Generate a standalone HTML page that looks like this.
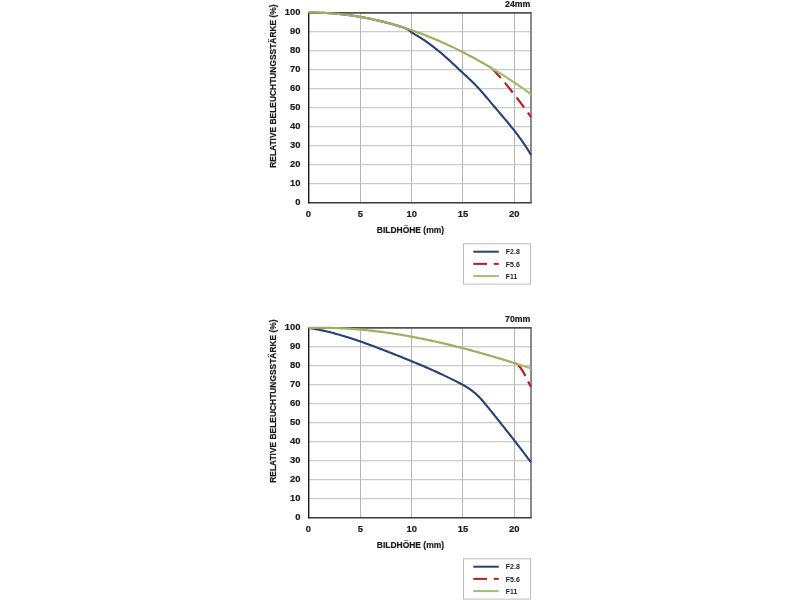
<!DOCTYPE html>
<html><head><meta charset="utf-8"><title>Relative Beleuchtungsst&auml;rke</title>
<style>
html,body{margin:0;padding:0;background:#fff;}
body{width:800px;height:600px;overflow:hidden;font-family:"Liberation Sans",sans-serif;}
svg{display:block;will-change:transform;}
svg text{font-family:"Liberation Sans",sans-serif;}
</style></head><body>
<svg width="800" height="600" viewBox="0 0 800 600">
<defs><clipPath id="clip0"><rect x="300" y="8.75" width="231.8" height="193.95"/></clipPath><clipPath id="clip315"><rect x="300" y="323.75" width="231.8" height="193.95"/></clipPath></defs>
<rect width="800" height="600" fill="#fff"/>
<line x1="360.50" y1="12.75" x2="360.50" y2="202.70" stroke="#b5b5b5" stroke-width="1"/>
<line x1="411.50" y1="12.75" x2="411.50" y2="202.70" stroke="#b5b5b5" stroke-width="1"/>
<line x1="462.50" y1="12.75" x2="462.50" y2="202.70" stroke="#b5b5b5" stroke-width="1"/>
<line x1="514.50" y1="12.75" x2="514.50" y2="202.70" stroke="#b5b5b5" stroke-width="1"/>
<line x1="308.60" y1="183.70" x2="531" y2="183.70" stroke="#bdbdbd" stroke-width="1"/>
<line x1="308.60" y1="164.71" x2="531" y2="164.71" stroke="#bdbdbd" stroke-width="1"/>
<line x1="308.60" y1="145.71" x2="531" y2="145.71" stroke="#bdbdbd" stroke-width="1"/>
<line x1="308.60" y1="126.72" x2="531" y2="126.72" stroke="#bdbdbd" stroke-width="1"/>
<line x1="308.60" y1="107.72" x2="531" y2="107.72" stroke="#bdbdbd" stroke-width="1"/>
<line x1="308.60" y1="88.73" x2="531" y2="88.73" stroke="#bdbdbd" stroke-width="1"/>
<line x1="308.60" y1="69.73" x2="531" y2="69.73" stroke="#bdbdbd" stroke-width="1"/>
<line x1="308.60" y1="50.74" x2="531" y2="50.74" stroke="#bdbdbd" stroke-width="1"/>
<line x1="308.60" y1="31.75" x2="531" y2="31.75" stroke="#bdbdbd" stroke-width="1"/>
<line x1="308.6" y1="12.90" x2="531.7" y2="12.90" stroke="#505050" stroke-width="1.8"/>
<line x1="531" y1="12.75" x2="531" y2="202.70" stroke="#666" stroke-width="1.5"/>
<line x1="308.6" y1="202.70" x2="531.7" y2="202.70" stroke="#3a3a3a" stroke-width="1.6"/>
<line x1="308.7" y1="12.75" x2="308.7" y2="203.50" stroke="#1a1a1a" stroke-width="1.4"/>
<g clip-path="url(#clip0)" fill="none" stroke-linejoin="round">
<path d="M308.60,12.61 L309.63,12.60 L310.66,12.60 L311.69,12.60 L312.72,12.60 L313.75,12.61 L314.77,12.62 L315.80,12.64 L316.83,12.66 L317.86,12.68 L318.89,12.71 L319.92,12.74 L320.95,12.78 L321.98,12.81 L323.01,12.86 L324.04,12.90 L325.06,12.95 L326.09,13.01 L327.12,13.06 L328.15,13.12 L329.18,13.19 L330.21,13.26 L331.24,13.33 L332.27,13.41 L333.30,13.49 L334.33,13.57 L335.35,13.66 L336.38,13.75 L337.41,13.84 L338.44,13.94 L339.47,14.04 L340.50,14.15 L341.53,14.26 L342.56,14.37 L343.59,14.48 L344.62,14.61 L345.64,14.73 L346.67,14.86 L347.70,14.99 L348.73,15.12 L349.76,15.26 L350.79,15.40 L351.82,15.55 L352.85,15.70 L353.88,15.85 L354.91,16.01 L355.93,16.17 L356.96,16.33 L357.99,16.50 L359.02,16.67 L360.05,16.85 L361.08,17.03 L362.11,17.21 L363.14,17.40 L364.17,17.59 L365.20,17.78 L366.22,17.98 L367.25,18.18 L368.28,18.38 L369.31,18.59 L370.34,18.80 L371.37,19.01 L372.40,19.23 L373.43,19.46 L374.46,19.68 L375.49,19.91 L376.51,20.14 L377.54,20.38 L378.57,20.62 L379.60,20.86 L380.63,21.11 L381.66,21.36 L382.69,21.62 L383.72,21.87 L384.75,22.14 L385.78,22.40 L386.80,22.67 L387.83,22.94 L388.86,23.22 L389.89,23.50 L390.92,23.78 L391.95,24.07 L392.98,24.36 L394.01,24.65 L395.04,24.95 L396.06,25.25 L397.09,25.55 L398.12,25.86 L399.15,26.17 L400.18,26.49 L401.21,26.80 L402.24,27.13 L403.27,27.47 L404.30,27.85 L405.33,28.29 L406.36,28.79 L407.38,29.35 L408.41,29.97 L409.44,30.64 L410.47,31.35 L411.50,32.09 L412.53,32.83 L413.56,33.54 L414.59,34.19 L415.62,34.79 L416.64,35.40 L417.67,36.02 L418.70,36.66 L419.73,37.30 L420.76,37.95 L421.79,38.62 L422.82,39.29 L423.85,39.98 L424.88,40.68 L425.91,41.38 L426.94,42.10 L427.96,42.83 L428.99,43.57 L430.02,44.32 L431.05,45.08 L432.08,45.86 L433.11,46.64 L434.14,47.43 L435.17,48.24 L436.20,49.05 L437.23,49.88 L438.25,50.71 L439.28,51.56 L440.31,52.42 L441.34,53.29 L442.37,54.17 L443.40,55.06 L444.43,55.96 L445.46,56.87 L446.49,57.79 L447.51,58.71 L448.54,59.65 L449.57,60.59 L450.60,61.53 L451.63,62.48 L452.66,63.43 L453.69,64.39 L454.72,65.35 L455.75,66.31 L456.78,67.27 L457.81,68.23 L458.83,69.19 L459.86,70.15 L460.89,71.11 L461.92,72.07 L462.95,73.02 L463.98,73.97 L465.01,74.92 L466.04,75.87 L467.07,76.82 L468.10,77.77 L469.12,78.74 L470.15,79.71 L471.18,80.69 L472.21,81.69 L473.24,82.71 L474.27,83.74 L475.30,84.79 L476.33,85.86 L477.36,86.96 L478.38,88.07 L479.41,89.20 L480.44,90.34 L481.47,91.50 L482.50,92.68 L483.53,93.86 L484.56,95.05 L485.59,96.26 L486.62,97.47 L487.65,98.68 L488.68,99.91 L489.70,101.13 L490.73,102.36 L491.76,103.58 L492.79,104.81 L493.82,106.03 L494.85,107.25 L495.88,108.47 L496.91,109.68 L497.94,110.88 L498.97,112.09 L499.99,113.29 L501.02,114.49 L502.05,115.70 L503.08,116.91 L504.11,118.12 L505.14,119.33 L506.17,120.55 L507.20,121.78 L508.23,123.02 L509.25,124.26 L510.28,125.52 L511.31,126.79 L512.34,128.07 L513.37,129.37 L514.40,130.68 L515.43,132.00 L516.46,133.35 L517.49,134.71 L518.52,136.10 L519.55,137.50 L520.57,138.93 L521.60,140.38 L522.63,141.85 L523.66,143.35 L524.69,144.88 L525.72,146.43 L526.75,148.02 L527.78,149.63 L528.81,151.28 L529.84,152.96 L530.86,154.67 L531.07,155.02" stroke="#264273" stroke-width="2.10"/>
<path d="M492.38,68.77 L493.41,69.84 L494.44,70.94 L495.47,72.04 L496.50,73.16 L497.52,74.30 L498.55,75.45 L499.58,76.61 L500.61,77.79 L501.64,78.98 L502.67,80.18 L503.70,81.39 L504.73,82.62 L505.76,83.85 L506.79,85.10 L507.81,86.36 L508.84,87.63 L509.87,88.91 L510.90,90.20 L511.93,91.50 L512.96,92.81 L513.99,94.12 L515.02,95.45 L516.05,96.79 L517.08,98.13 L518.10,99.48 L519.13,100.84 L520.16,102.20 L521.19,103.57 L522.22,104.95 L523.25,106.33 L524.28,107.72 L525.31,109.11 L526.34,110.51 L527.37,111.92 L528.39,113.32 L529.42,114.74 L530.45,116.15 L531.07,117.00" stroke="#b51e27" stroke-width="2.20" stroke-dasharray="12.5 6.3"/>
<path d="M489.70,66.99 L490.73,67.61 L491.76,68.22 L492.79,68.84 L493.82,69.46 L494.85,70.09 L495.88,70.72 L496.91,71.35 L497.94,71.99 L498.97,72.62 L499.99,73.27 L501.02,73.91 L502.05,74.56 L503.08,75.21 L504.11,75.87 L505.14,76.52 L506.17,77.18 L507.20,77.85 L508.23,78.52 L509.25,79.19 L510.28,79.86 L511.31,80.54 L512.34,81.22 L513.37,81.90 L514.40,82.59 L515.43,83.28 L516.46,83.97 L517.49,84.67 L518.52,85.37 L519.55,86.07 L520.57,86.78 L521.60,87.48 L522.63,88.20 L523.66,88.91 L524.69,89.63 L525.72,90.35 L526.75,91.08 L527.78,91.80 L528.81,92.53 L529.84,93.27 L530.86,94.01 L531.07,94.15" stroke="#a4bd6b" stroke-width="2.20"/>
<path d="M308.60,12.61 L309.63,12.60 L310.66,12.60 L311.69,12.60 L312.72,12.60 L313.75,12.61 L314.77,12.62 L315.80,12.64 L316.83,12.66 L317.86,12.68 L318.89,12.71 L319.92,12.74 L320.95,12.78 L321.98,12.81 L323.01,12.86 L324.04,12.90 L325.06,12.95 L326.09,13.01 L327.12,13.06 L328.15,13.12 L329.18,13.19 L330.21,13.26 L331.24,13.33 L332.27,13.41 L333.30,13.49 L334.33,13.57 L335.35,13.66 L336.38,13.75 L337.41,13.84 L338.44,13.94 L339.47,14.04 L340.50,14.15 L341.53,14.26 L342.56,14.37 L343.59,14.48 L344.62,14.61 L345.64,14.73 L346.67,14.86 L347.70,14.99 L348.73,15.12 L349.76,15.26 L350.79,15.40 L351.82,15.55 L352.85,15.70 L353.88,15.85 L354.91,16.01 L355.93,16.17 L356.96,16.33 L357.99,16.50 L359.02,16.67 L360.05,16.85 L361.08,17.03 L362.11,17.21 L363.14,17.40 L364.17,17.59 L365.20,17.78 L366.22,17.98 L367.25,18.18 L368.28,18.38 L369.31,18.59 L370.34,18.80 L371.37,19.01 L372.40,19.23 L373.43,19.46 L374.46,19.68 L375.49,19.91 L376.51,20.14 L377.54,20.38 L378.57,20.62 L379.60,20.86 L380.63,21.11 L381.66,21.36 L382.69,21.62 L383.72,21.87 L384.75,22.14 L385.78,22.40 L386.80,22.67 L387.83,22.94 L388.86,23.22 L389.89,23.50 L390.92,23.78 L391.95,24.07 L392.98,24.36 L394.01,24.65 L395.04,24.95 L396.06,25.25 L397.09,25.55 L398.12,25.86 L399.15,26.17 L400.18,26.49 L401.21,26.80 L402.24,27.13 L403.27,27.45 L404.30,27.78 L405.33,28.11 L406.36,28.45 L407.38,28.79 L408.41,29.13 L409.44,29.48 L410.47,29.82 L411.50,30.18 L412.53,30.53 L413.56,30.89 L414.59,31.26 L415.62,31.63 L416.64,32.00 L417.67,32.37 L418.70,32.75 L419.73,33.13 L420.76,33.51 L421.79,33.90 L422.82,34.29 L423.85,34.69 L424.88,35.09 L425.91,35.49 L426.94,35.89 L427.96,36.30 L428.99,36.71 L430.02,37.13 L431.05,37.55 L432.08,37.97 L433.11,38.40 L434.14,38.82 L435.17,39.26 L436.20,39.69 L437.23,40.13 L438.25,40.58 L439.28,41.02 L440.31,41.47 L441.34,41.92 L442.37,42.38 L443.40,42.84 L444.43,43.30 L445.46,43.77 L446.49,44.24 L447.51,44.71 L448.54,45.19 L449.57,45.67 L450.60,46.15 L451.63,46.64 L452.66,47.13 L453.69,47.62 L454.72,48.12 L455.75,48.62 L456.78,49.12 L457.81,49.63 L458.83,50.14 L459.86,50.66 L460.89,51.17 L461.92,51.69 L462.95,52.22 L463.98,52.74 L465.01,53.27 L466.04,53.81 L467.07,54.35 L468.10,54.89 L469.12,55.43 L470.15,55.98 L471.18,56.53 L472.21,57.08 L473.24,57.64 L474.27,58.20 L475.30,58.76 L476.33,59.33 L477.36,59.90 L478.38,60.47 L479.41,61.05 L480.44,61.63 L481.47,62.21 L482.50,62.80 L483.53,63.39 L484.56,63.98 L485.59,64.58 L486.62,65.18 L487.65,65.78 L488.68,66.38 L489.70,66.99 L490.73,67.61 L491.76,68.22" stroke="#a0ae62" stroke-width="2.20"/>
</g>
<g font-size="9.90" font-weight="bold" fill="#1a1a1a" stroke="#1a1a1a" stroke-width="0.2"><text x="300.5" y="205.40" text-anchor="end" textLength="5.23" lengthAdjust="spacingAndGlyphs">0</text><text x="300.5" y="186.40" text-anchor="end" textLength="10.46" lengthAdjust="spacingAndGlyphs">10</text><text x="300.5" y="167.41" text-anchor="end" textLength="10.46" lengthAdjust="spacingAndGlyphs">20</text><text x="300.5" y="148.41" text-anchor="end" textLength="10.46" lengthAdjust="spacingAndGlyphs">30</text><text x="300.5" y="129.42" text-anchor="end" textLength="10.46" lengthAdjust="spacingAndGlyphs">40</text><text x="300.5" y="110.42" text-anchor="end" textLength="10.46" lengthAdjust="spacingAndGlyphs">50</text><text x="300.5" y="91.43" text-anchor="end" textLength="10.46" lengthAdjust="spacingAndGlyphs">60</text><text x="300.5" y="72.43" text-anchor="end" textLength="10.46" lengthAdjust="spacingAndGlyphs">70</text><text x="300.5" y="53.44" text-anchor="end" textLength="10.46" lengthAdjust="spacingAndGlyphs">80</text><text x="300.5" y="34.45" text-anchor="end" textLength="10.46" lengthAdjust="spacingAndGlyphs">90</text><text x="300.5" y="15.45" text-anchor="end" textLength="15.69" lengthAdjust="spacingAndGlyphs">100</text><text x="308.40" y="216.60" text-anchor="middle" textLength="5.23" lengthAdjust="spacingAndGlyphs">0</text><text x="360.40" y="216.60" text-anchor="middle" textLength="5.23" lengthAdjust="spacingAndGlyphs">5</text><text x="411.70" y="216.60" text-anchor="middle" textLength="10.46" lengthAdjust="spacingAndGlyphs">10</text><text x="463.00" y="216.60" text-anchor="middle" textLength="10.46" lengthAdjust="spacingAndGlyphs">15</text><text x="514.20" y="216.60" text-anchor="middle" textLength="10.46" lengthAdjust="spacingAndGlyphs">20</text></g>
<text x="530.4" y="6.80" text-anchor="end" font-size="9.8" font-weight="bold" fill="#1a1a1a" stroke="#1a1a1a" stroke-width="0.2" textLength="25.3" lengthAdjust="spacingAndGlyphs">24mm</text>
<text x="376.8" y="232.50" font-size="9.4" font-weight="bold" fill="#1a1a1a" stroke="#1a1a1a" stroke-width="0.2" textLength="67.2" lengthAdjust="spacingAndGlyphs">BILDH&#214;HE (mm)</text>
<text transform="translate(276.4,167.80) rotate(-90)" x="0" y="0" font-size="9.5" font-weight="bold" fill="#1a1a1a" stroke="#1a1a1a" stroke-width="0.2" textLength="163.4" lengthAdjust="spacingAndGlyphs">RELATIVE BELEUCHTUNGSST&#196;RKE (%)</text>
<rect x="463.5" y="243.80" width="67" height="40.3" fill="none" stroke="#bdbdbd" stroke-width="1"/>
<line x1="473.3" y1="251.70" x2="498.8" y2="251.70" stroke="#264273" stroke-width="2"/>
<line x1="473.3" y1="263.90" x2="487" y2="263.90" stroke="#b51e27" stroke-width="2"/>
<line x1="493.8" y1="263.90" x2="498.8" y2="263.90" stroke="#b51e27" stroke-width="2"/>
<line x1="473.3" y1="276.10" x2="498.8" y2="276.10" stroke="#a4bd6b" stroke-width="2"/>
<g font-size="7.5" font-weight="bold" fill="#1a1a1a"><text x="505.8" y="254.30" textLength="14.00" lengthAdjust="spacingAndGlyphs">F2.8</text><text x="505.8" y="266.50" textLength="14.00" lengthAdjust="spacingAndGlyphs">F5.6</text><text x="505.8" y="278.70" textLength="11.40" lengthAdjust="spacingAndGlyphs">F11</text></g>
<line x1="360.50" y1="327.75" x2="360.50" y2="517.70" stroke="#b5b5b5" stroke-width="1"/>
<line x1="411.50" y1="327.75" x2="411.50" y2="517.70" stroke="#b5b5b5" stroke-width="1"/>
<line x1="462.50" y1="327.75" x2="462.50" y2="517.70" stroke="#b5b5b5" stroke-width="1"/>
<line x1="514.50" y1="327.75" x2="514.50" y2="517.70" stroke="#b5b5b5" stroke-width="1"/>
<line x1="308.60" y1="498.71" x2="531" y2="498.71" stroke="#bdbdbd" stroke-width="1"/>
<line x1="308.60" y1="479.71" x2="531" y2="479.71" stroke="#bdbdbd" stroke-width="1"/>
<line x1="308.60" y1="460.72" x2="531" y2="460.72" stroke="#bdbdbd" stroke-width="1"/>
<line x1="308.60" y1="441.72" x2="531" y2="441.72" stroke="#bdbdbd" stroke-width="1"/>
<line x1="308.60" y1="422.73" x2="531" y2="422.73" stroke="#bdbdbd" stroke-width="1"/>
<line x1="308.60" y1="403.73" x2="531" y2="403.73" stroke="#bdbdbd" stroke-width="1"/>
<line x1="308.60" y1="384.74" x2="531" y2="384.74" stroke="#bdbdbd" stroke-width="1"/>
<line x1="308.60" y1="365.74" x2="531" y2="365.74" stroke="#bdbdbd" stroke-width="1"/>
<line x1="308.60" y1="346.75" x2="531" y2="346.75" stroke="#bdbdbd" stroke-width="1"/>
<line x1="308.6" y1="327.90" x2="531.7" y2="327.90" stroke="#505050" stroke-width="1.8"/>
<line x1="531" y1="327.75" x2="531" y2="517.70" stroke="#666" stroke-width="1.5"/>
<line x1="308.6" y1="517.70" x2="531.7" y2="517.70" stroke="#3a3a3a" stroke-width="1.6"/>
<line x1="308.7" y1="327.75" x2="308.7" y2="518.50" stroke="#1a1a1a" stroke-width="1.4"/>
<g clip-path="url(#clip315)" fill="none" stroke-linejoin="round">
<path d="M308.60,328.00 L309.63,328.15 L310.66,328.31 L311.69,328.47 L312.72,328.64 L313.75,328.82 L314.77,329.00 L315.80,329.18 L316.83,329.37 L317.86,329.57 L318.89,329.77 L319.92,329.98 L320.95,330.19 L321.98,330.40 L323.01,330.62 L324.04,330.85 L325.06,331.08 L326.09,331.32 L327.12,331.56 L328.15,331.80 L329.18,332.05 L330.21,332.31 L331.24,332.57 L332.27,332.83 L333.30,333.10 L334.33,333.37 L335.35,333.65 L336.38,333.93 L337.41,334.21 L338.44,334.50 L339.47,334.79 L340.50,335.09 L341.53,335.39 L342.56,335.69 L343.59,336.00 L344.62,336.31 L345.64,336.63 L346.67,336.95 L347.70,337.27 L348.73,337.59 L349.76,337.92 L350.79,338.25 L351.82,338.59 L352.85,338.92 L353.88,339.26 L354.91,339.61 L355.93,339.95 L356.96,340.30 L357.99,340.65 L359.02,341.01 L360.05,341.36 L361.08,341.72 L362.11,342.09 L363.14,342.45 L364.17,342.82 L365.20,343.19 L366.22,343.56 L367.25,343.93 L368.28,344.30 L369.31,344.68 L370.34,345.06 L371.37,345.44 L372.40,345.82 L373.43,346.21 L374.46,346.60 L375.49,346.98 L376.51,347.37 L377.54,347.76 L378.57,348.15 L379.60,348.55 L380.63,348.94 L381.66,349.34 L382.69,349.73 L383.72,350.13 L384.75,350.53 L385.78,350.93 L386.80,351.33 L387.83,351.73 L388.86,352.14 L389.89,352.54 L390.92,352.94 L391.95,353.34 L392.98,353.75 L394.01,354.15 L395.04,354.56 L396.06,354.97 L397.09,355.37 L398.12,355.78 L399.15,356.19 L400.18,356.60 L401.21,357.01 L402.24,357.42 L403.27,357.83 L404.30,358.24 L405.33,358.66 L406.36,359.07 L407.38,359.49 L408.41,359.91 L409.44,360.33 L410.47,360.75 L411.50,361.17 L412.53,361.59 L413.56,362.02 L414.59,362.44 L415.62,362.87 L416.64,363.30 L417.67,363.73 L418.70,364.16 L419.73,364.59 L420.76,365.03 L421.79,365.46 L422.82,365.90 L423.85,366.34 L424.88,366.79 L425.91,367.23 L426.94,367.68 L427.96,368.13 L428.99,368.58 L430.02,369.03 L431.05,369.48 L432.08,369.94 L433.11,370.40 L434.14,370.86 L435.17,371.32 L436.20,371.79 L437.23,372.26 L438.25,372.73 L439.28,373.20 L440.31,373.68 L441.34,374.16 L442.37,374.64 L443.40,375.12 L444.43,375.61 L445.46,376.10 L446.49,376.59 L447.51,377.08 L448.54,377.58 L449.57,378.08 L450.60,378.59 L451.63,379.09 L452.66,379.60 L453.69,380.11 L454.72,380.63 L455.75,381.15 L456.78,381.67 L457.81,382.20 L458.83,382.72 L459.86,383.26 L460.89,383.79 L461.92,384.34 L462.95,384.90 L463.98,385.47 L465.01,386.05 L466.04,386.66 L467.07,387.28 L468.10,387.93 L469.12,388.61 L470.15,389.31 L471.18,390.04 L472.21,390.81 L473.24,391.61 L474.27,392.45 L475.30,393.33 L476.33,394.26 L477.36,395.23 L478.38,396.24 L479.41,397.30 L480.44,398.39 L481.47,399.52 L482.50,400.68 L483.53,401.87 L484.56,403.08 L485.59,404.31 L486.62,405.56 L487.65,406.82 L488.68,408.09 L489.70,409.37 L490.73,410.66 L491.76,411.94 L492.79,413.23 L493.82,414.51 L494.85,415.80 L495.88,417.09 L496.91,418.37 L497.94,419.66 L498.97,420.95 L499.99,422.24 L501.02,423.54 L502.05,424.83 L503.08,426.13 L504.11,427.43 L505.14,428.72 L506.17,430.03 L507.20,431.33 L508.23,432.64 L509.25,433.95 L510.28,435.26 L511.31,436.57 L512.34,437.89 L513.37,439.21 L514.40,440.53 L515.43,441.86 L516.46,443.18 L517.49,444.52 L518.52,445.85 L519.55,447.19 L520.57,448.54 L521.60,449.88 L522.63,451.24 L523.66,452.59 L524.69,453.95 L525.72,455.32 L526.75,456.68 L527.78,458.06 L528.81,459.44 L529.84,460.82 L530.86,462.21 L531.07,462.49" stroke="#264273" stroke-width="2.10"/>
<path d="M518.00,365.56 L519.03,366.22 L520.06,367.23 L521.09,368.53 L522.12,370.07 L523.15,371.82 L524.18,373.71 L525.20,375.72 L526.23,377.78 L527.26,379.85 L528.29,381.88 L529.32,383.83 L530.35,385.65 L531.07,386.82" stroke="#b51e27" stroke-width="2.20" stroke-dasharray="13 6"/>
<path d="M515.43,363.42 L516.46,363.74 L517.49,364.07 L518.52,364.39 L519.55,364.72 L520.57,365.05 L521.60,365.38 L522.63,365.71 L523.66,366.04 L524.69,366.37 L525.72,366.71 L526.75,367.04 L527.78,367.38 L528.81,367.71 L529.84,368.05 L530.86,368.38 L531.07,368.45" stroke="#a4bd6b" stroke-width="2.20"/>
<path d="M308.60,327.90 L309.63,327.88 L310.66,327.85 L311.69,327.83 L312.72,327.81 L313.75,327.79 L314.77,327.78 L315.80,327.77 L316.83,327.76 L317.86,327.75 L318.89,327.75 L319.92,327.74 L320.95,327.75 L321.98,327.75 L323.01,327.76 L324.04,327.76 L325.06,327.77 L326.09,327.79 L327.12,327.80 L328.15,327.82 L329.18,327.84 L330.21,327.87 L331.24,327.89 L332.27,327.92 L333.30,327.95 L334.33,327.98 L335.35,328.02 L336.38,328.06 L337.41,328.10 L338.44,328.14 L339.47,328.18 L340.50,328.23 L341.53,328.28 L342.56,328.33 L343.59,328.39 L344.62,328.44 L345.64,328.50 L346.67,328.56 L347.70,328.63 L348.73,328.69 L349.76,328.76 L350.79,328.83 L351.82,328.90 L352.85,328.98 L353.88,329.05 L354.91,329.13 L355.93,329.21 L356.96,329.30 L357.99,329.38 L359.02,329.47 L360.05,329.56 L361.08,329.65 L362.11,329.75 L363.14,329.85 L364.17,329.94 L365.20,330.05 L366.22,330.15 L367.25,330.25 L368.28,330.36 L369.31,330.47 L370.34,330.58 L371.37,330.70 L372.40,330.81 L373.43,330.93 L374.46,331.05 L375.49,331.17 L376.51,331.30 L377.54,331.42 L378.57,331.55 L379.60,331.68 L380.63,331.82 L381.66,331.95 L382.69,332.09 L383.72,332.22 L384.75,332.36 L385.78,332.51 L386.80,332.65 L387.83,332.80 L388.86,332.95 L389.89,333.10 L390.92,333.25 L391.95,333.40 L392.98,333.56 L394.01,333.72 L395.04,333.88 L396.06,334.04 L397.09,334.20 L398.12,334.37 L399.15,334.53 L400.18,334.70 L401.21,334.88 L402.24,335.05 L403.27,335.22 L404.30,335.40 L405.33,335.58 L406.36,335.76 L407.38,335.94 L408.41,336.12 L409.44,336.31 L410.47,336.50 L411.50,336.69 L412.53,336.88 L413.56,337.07 L414.59,337.26 L415.62,337.46 L416.64,337.66 L417.67,337.86 L418.70,338.06 L419.73,338.26 L420.76,338.47 L421.79,338.67 L422.82,338.88 L423.85,339.09 L424.88,339.30 L425.91,339.52 L426.94,339.73 L427.96,339.95 L428.99,340.17 L430.02,340.39 L431.05,340.61 L432.08,340.83 L433.11,341.05 L434.14,341.28 L435.17,341.51 L436.20,341.74 L437.23,341.97 L438.25,342.20 L439.28,342.43 L440.31,342.67 L441.34,342.91 L442.37,343.14 L443.40,343.38 L444.43,343.62 L445.46,343.87 L446.49,344.11 L447.51,344.36 L448.54,344.61 L449.57,344.85 L450.60,345.10 L451.63,345.36 L452.66,345.61 L453.69,345.86 L454.72,346.12 L455.75,346.38 L456.78,346.64 L457.81,346.90 L458.83,347.16 L459.86,347.42 L460.89,347.68 L461.92,347.95 L462.95,348.22 L463.98,348.48 L465.01,348.75 L466.04,349.03 L467.07,349.30 L468.10,349.57 L469.12,349.85 L470.15,350.12 L471.18,350.40 L472.21,350.68 L473.24,350.96 L474.27,351.24 L475.30,351.52 L476.33,351.80 L477.36,352.09 L478.38,352.38 L479.41,352.66 L480.44,352.95 L481.47,353.24 L482.50,353.53 L483.53,353.82 L484.56,354.12 L485.59,354.41 L486.62,354.71 L487.65,355.00 L488.68,355.30 L489.70,355.60 L490.73,355.90 L491.76,356.20 L492.79,356.50 L493.82,356.81 L494.85,357.11 L495.88,357.42 L496.91,357.72 L497.94,358.03 L498.97,358.34 L499.99,358.65 L501.02,358.96 L502.05,359.27 L503.08,359.59 L504.11,359.90 L505.14,360.21 L506.17,360.53 L507.20,360.85 L508.23,361.16 L509.25,361.48 L510.28,361.80 L511.31,362.12 L512.34,362.45 L513.37,362.77 L514.40,363.09 L515.43,363.42 L516.46,363.74 L517.49,364.07" stroke="#a0ae62" stroke-width="2.20"/>
</g>
<g font-size="9.90" font-weight="bold" fill="#1a1a1a" stroke="#1a1a1a" stroke-width="0.2"><text x="300.5" y="520.40" text-anchor="end" textLength="5.23" lengthAdjust="spacingAndGlyphs">0</text><text x="300.5" y="501.41" text-anchor="end" textLength="10.46" lengthAdjust="spacingAndGlyphs">10</text><text x="300.5" y="482.41" text-anchor="end" textLength="10.46" lengthAdjust="spacingAndGlyphs">20</text><text x="300.5" y="463.42" text-anchor="end" textLength="10.46" lengthAdjust="spacingAndGlyphs">30</text><text x="300.5" y="444.42" text-anchor="end" textLength="10.46" lengthAdjust="spacingAndGlyphs">40</text><text x="300.5" y="425.43" text-anchor="end" textLength="10.46" lengthAdjust="spacingAndGlyphs">50</text><text x="300.5" y="406.43" text-anchor="end" textLength="10.46" lengthAdjust="spacingAndGlyphs">60</text><text x="300.5" y="387.44" text-anchor="end" textLength="10.46" lengthAdjust="spacingAndGlyphs">70</text><text x="300.5" y="368.44" text-anchor="end" textLength="10.46" lengthAdjust="spacingAndGlyphs">80</text><text x="300.5" y="349.44" text-anchor="end" textLength="10.46" lengthAdjust="spacingAndGlyphs">90</text><text x="300.5" y="330.45" text-anchor="end" textLength="15.69" lengthAdjust="spacingAndGlyphs">100</text><text x="308.40" y="531.60" text-anchor="middle" textLength="5.23" lengthAdjust="spacingAndGlyphs">0</text><text x="360.40" y="531.60" text-anchor="middle" textLength="5.23" lengthAdjust="spacingAndGlyphs">5</text><text x="411.70" y="531.60" text-anchor="middle" textLength="10.46" lengthAdjust="spacingAndGlyphs">10</text><text x="463.00" y="531.60" text-anchor="middle" textLength="10.46" lengthAdjust="spacingAndGlyphs">15</text><text x="514.20" y="531.60" text-anchor="middle" textLength="10.46" lengthAdjust="spacingAndGlyphs">20</text></g>
<text x="530.4" y="321.80" text-anchor="end" font-size="9.8" font-weight="bold" fill="#1a1a1a" stroke="#1a1a1a" stroke-width="0.2" textLength="25.3" lengthAdjust="spacingAndGlyphs">70mm</text>
<text x="376.8" y="547.50" font-size="9.4" font-weight="bold" fill="#1a1a1a" stroke="#1a1a1a" stroke-width="0.2" textLength="67.2" lengthAdjust="spacingAndGlyphs">BILDH&#214;HE (mm)</text>
<text transform="translate(276.4,482.80) rotate(-90)" x="0" y="0" font-size="9.5" font-weight="bold" fill="#1a1a1a" stroke="#1a1a1a" stroke-width="0.2" textLength="163.4" lengthAdjust="spacingAndGlyphs">RELATIVE BELEUCHTUNGSST&#196;RKE (%)</text>
<rect x="463.5" y="558.80" width="67" height="40.3" fill="none" stroke="#bdbdbd" stroke-width="1"/>
<line x1="473.3" y1="566.70" x2="498.8" y2="566.70" stroke="#264273" stroke-width="2"/>
<line x1="473.3" y1="578.90" x2="487" y2="578.90" stroke="#b51e27" stroke-width="2"/>
<line x1="493.8" y1="578.90" x2="498.8" y2="578.90" stroke="#b51e27" stroke-width="2"/>
<line x1="473.3" y1="591.10" x2="498.8" y2="591.10" stroke="#a4bd6b" stroke-width="2"/>
<g font-size="7.5" font-weight="bold" fill="#1a1a1a"><text x="505.8" y="569.30" textLength="14.00" lengthAdjust="spacingAndGlyphs">F2.8</text><text x="505.8" y="581.50" textLength="14.00" lengthAdjust="spacingAndGlyphs">F5.6</text><text x="505.8" y="593.70" textLength="11.40" lengthAdjust="spacingAndGlyphs">F11</text></g>
</svg>
</body></html>
